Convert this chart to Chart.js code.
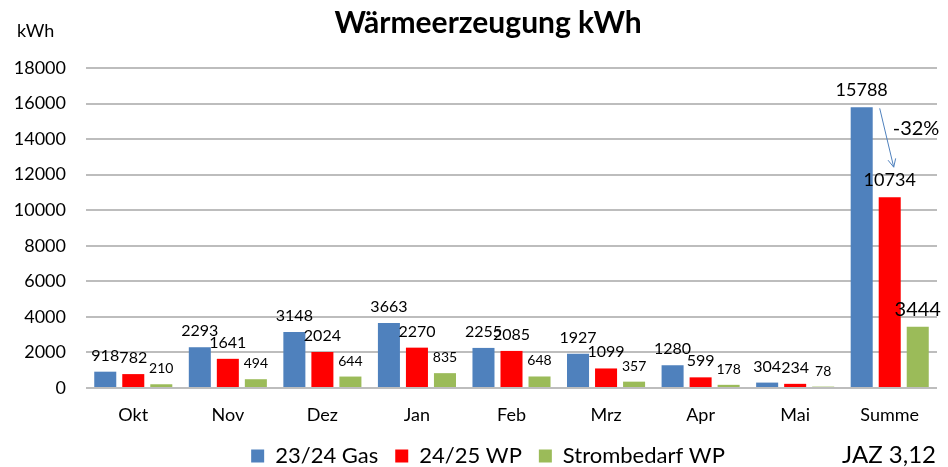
<!DOCTYPE html>
<html>
<head>
<meta charset="utf-8">
<script src="https://cdn.jsdelivr.net/npm/chart.js@4"></script>
<style>
    html, body { margin: 0; padding: 0; background: #fff; }
    #wrap { width: 948px; height: 467px; }
</style>
</head>
<body>
<div id="wrap"><canvas id="heatChart"></canvas></div>
<script>
// Daten
const monate = ['Okt', 'Nov', 'Dez', 'Jan', 'Feb', 'Mrz', 'Apr', 'Mai', 'Summe'];
const gas2324 = [918, 2293, 3148, 3663, 2255, 1927, 1280, 304, 15788];
const wp2425 = [782, 1641, 2024, 2270, 2085, 1099, 599, 234, 10734];
const stromWp = [210, 494, 644, 835, 648, 357, 178, 78, 3444];
const serienNamen = ['23/24 Gas', '24/25 WP', 'Strombedarf WP'];
const yTicks = [0, 2000, 4000, 6000, 8000, 10000, 12000, 14000, 16000, 18000];
const einsparung = '-32%';
const jaz = 'JAZ 3,12';

Chart.defaults.font.family = 'Lato';
Chart.defaults.color = '#000';

// breitestes Y-Label messen (Labels werden rechtsbuendig links neben die Flaeche gelegt)
const mctx = document.createElement('canvas').getContext('2d');
mctx.font = '18px Lato';
const widest = mctx.measureText(String(yTicks[yTicks.length - 1])).width;

// Werte ueber den Balken, Pfeil und Zusatztexte
const labelPlugin = {
    id: 'labelPlugin',
    afterDatasetsDraw(chart) {
        const ctx = chart.ctx;
        const last = monate.length - 1;
        ctx.save();
        ctx.fillStyle = '#000';
        ctx.textAlign = 'center';
        ctx.textBaseline = 'alphabetic';
        chart.data.datasets.forEach((ds, di) => {
            const meta = chart.getDatasetMeta(di);
            meta.data.forEach((bar, i) => {
                let size = di == 2 ? 14 : 16;
                if (i == last) size = di == 2 ? 20 : 18;
                ctx.font = size + 'px Lato';
                ctx.fillText(ds.data[i], bar.x, bar.y - 11);
            });
        });

        // Pfeil von Gas-Summe zu WP-Summe
        const blue = chart.getDatasetMeta(0).data[last];
        const red = chart.getDatasetMeta(1).data[last];
        const x1 = blue.x + blue.width / 2 + 7, y1 = blue.y + 1;
        const x2 = red.x + 4, y2 = red.y - 30;
        ctx.strokeStyle = '#4F81BD';
        ctx.lineWidth = 1;
        ctx.beginPath();
        ctx.moveTo(x1, y1);
        ctx.lineTo(x2, y2);
        const ang = Math.atan2(y2 - y1, x2 - x1);
        ctx.moveTo(x2 - 9 * Math.cos(ang - 0.45), y2 - 9 * Math.sin(ang - 0.45));
        ctx.lineTo(x2, y2);
        ctx.lineTo(x2 - 9 * Math.cos(ang + 0.45), y2 - 9 * Math.sin(ang + 0.45));
        ctx.stroke();

        ctx.textAlign = 'left';
        ctx.textBaseline = 'middle';
        ctx.font = '20px Lato';
        ctx.fillText(einsparung, red.x + 3, (blue.y + red.y) / 2 - 24);

        ctx.font = '18px Lato';
        ctx.fillText('kWh', 17, 31);

        ctx.textAlign = 'right';
        ctx.font = '24px Lato';
        ctx.fillText(jaz, chart.chartArea.right - 1, 455);
        ctx.restore();
    }
};

const ctx = document.getElementById('heatChart').getContext('2d');
const heatChart = new Chart(ctx, {
    type: 'bar',
    data: {
        labels: monate,
        datasets: [
            { label: serienNamen[0], data: gas2324, backgroundColor: '#4F81BD' },
            { label: serienNamen[1], data: wp2425, backgroundColor: '#FF0000' },
            { label: serienNamen[2], data: stromWp, backgroundColor: '#9BBB59' }
        ]
    },
    options: {
        responsive: true,
        maintainAspectRatio: false,
        animation: false,
        categoryPercentage: 0.889,
        barPercentage: 0.786,
        layout: { padding: { left: 39, right: 11, top: 0, bottom: -10 } },
        plugins: {
            title: {
                display: true,
                text: 'Wärmeerzeugung kWh',
                font: { size: 30, weight: 'bold' },
                color: '#000',
                padding: { top: 5, bottom: 27 }
            },
            legend: {
                position: 'bottom',
                labels: {
                    boxWidth: 13,
                    boxHeight: 13,
                    padding: 17,
                    font: { size: 22 },
                    color: '#000'
                }
            },
            tooltip: { enabled: false }
        },
        scales: {
            x: {
                grid: { display: false, drawTicks: false },
                border: { display: false },
                ticks: { font: { size: 18 }, padding: 16, color: '#000' },
                afterFit(scale) { scale.height = 40; }
            },
            y: {
                min: 0,
                max: 18000,
                afterBuildTicks(scale) { scale.ticks = yTicks.map(v => ({ value: v })); },
                grid: { color: '#BDBDBD', lineWidth: 2, drawTicks: false },
                border: { display: false },
                ticks: {
                    font: { size: 18 },
                    mirror: true,
                    crossAlign: 'far',
                    padding: -20 - widest,
                    color: '#000',
                    callback: (value) => String(value)
                },
                afterFit(scale) { scale.width = 47; }
            }
        }
    },
    plugins: [labelPlugin]
});
</script>
</body>
</html>
